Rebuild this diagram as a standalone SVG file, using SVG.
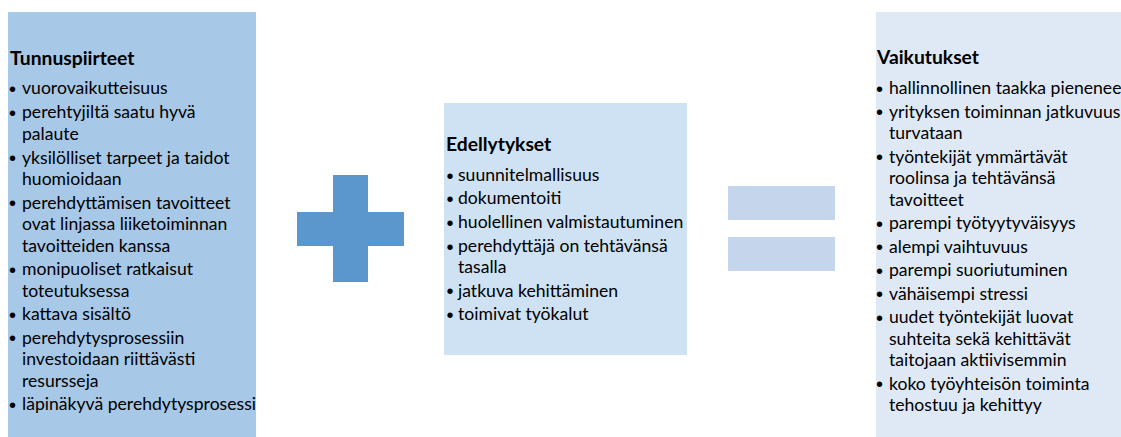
<svg xmlns="http://www.w3.org/2000/svg" width="1121" height="437" viewBox="0 0 1121 437">
<style>
text{font-family:Lato,"Liberation Sans",sans-serif;fill:#000;font-size:17.6px}
.t{font-weight:bold;font-size:19.3px}
.b{font-family:"Liberation Sans",Arial,sans-serif;font-size:20px;transform:translateY(1.5px)}
</style>
<rect width="1121" height="437" fill="#fff"/>
<g id="tunnuspiirteet">
<rect x="8" y="12" width="248" height="425" fill="#a7c8e7"/>
<text class="t" x="10" y="65">Tunnuspiirteet</text>
<text class="b" x="9" y="94">•</text><text x="22" y="94">vuorovaikutteisuus</text>
<text class="b" x="9" y="118">•</text><text x="22" y="118">perehtyjiltä saatu hyvä</text>
<text x="22" y="139.5">palaute</text>
<text class="b" x="9" y="163.5">•</text><text x="22" y="163.5">yksilölliset tarpeet ja taidot</text>
<text x="22" y="185">huomioidaan</text>
<text class="b" x="9" y="208.5">•</text><text x="22" y="208.5">perehdyttämisen tavoitteet</text>
<text x="22" y="230">ovat linjassa liiketoiminnan</text>
<text x="22" y="251.5">tavoitteiden kanssa</text>
<text class="b" x="9" y="275">•</text><text x="22" y="275">monipuoliset ratkaisut</text>
<text x="22" y="296.5">toteutuksessa</text>
<text class="b" x="9" y="320">•</text><text x="22" y="320">kattava sisältö</text>
<text class="b" x="9" y="343.5">•</text><text x="22" y="343.5">perehdytysprosessiin</text>
<text x="22" y="365">investoidaan riittävästi</text>
<text x="22" y="386.5">resursseja</text>
<text class="b" x="9" y="410">•</text><text x="22" y="410">läpinäkyvä perehdytysprosessi</text>
</g>
<g id="plus">
<path d="M333 175H368V212H404V246H368V282H333V246H297V212H333Z" fill="#5b96cc"/>
</g>
<g id="edellytykset">
<rect x="444" y="103" width="243" height="252" fill="#cfe2f3"/>
<text class="t" x="446" y="151">Edellytykset</text>
<text class="b" x="446.5" y="181">•</text><text x="458" y="181">suunnitelmallisuus</text>
<text class="b" x="446.5" y="204">•</text><text x="458" y="204">dokumentoiti</text>
<text class="b" x="446.5" y="228">•</text><text x="458" y="228">huolellinen valmistautuminen</text>
<text class="b" x="446.5" y="252">•</text><text x="458" y="252">perehdyttäjä on tehtävänsä</text>
<text x="458" y="273">tasalla</text>
<text class="b" x="446.5" y="296.5">•</text><text x="458" y="296.5">jatkuva kehittäminen</text>
<text class="b" x="446.5" y="320">•</text><text x="458" y="320">toimivat työkalut</text>
</g>
<g id="equals">
<rect x="728" y="186" width="107" height="34" fill="#c5d5eb"/>
<rect x="728" y="237" width="107" height="34" fill="#c5d5eb"/>
</g>
<g id="vaikutukset">
<rect x="876" y="12" width="245" height="425" fill="#dee9f5"/>
<text class="t" x="877" y="64">Vaikutukset</text>
<text class="b" x="876" y="94">•</text><text x="889" y="94">hallinnollinen taakka pienenee</text>
<text class="b" x="876" y="117.5">•</text><text x="889" y="117.5">yrityksen toiminnan jatkuvuus</text>
<text x="889" y="139">turvataan</text>
<text class="b" x="876" y="162.5">•</text><text x="889" y="162.5">työntekijät ymmärtävät</text>
<text x="889" y="184">roolinsa ja tehtävänsä</text>
<text x="889" y="205.5">tavoitteet</text>
<text class="b" x="876" y="229">•</text><text x="889" y="229">parempi työtyytyväisyys</text>
<text class="b" x="876" y="252.5">•</text><text x="889" y="252.5">alempi vaihtuvuus</text>
<text class="b" x="876" y="276">•</text><text x="889" y="276">parempi suoriutuminen</text>
<text class="b" x="876" y="299.5">•</text><text x="889" y="299.5">vähäisempi stressi</text>
<text class="b" x="876" y="323">•</text><text x="889" y="323">uudet työntekijät luovat</text>
<text x="889" y="344.5">suhteita sekä kehittävät</text>
<text x="889" y="366">taitojaan aktiivisemmin</text>
<text class="b" x="876" y="389.5">•</text><text x="889" y="389.5">koko työyhteisön toiminta</text>
<text x="889" y="411">tehostuu ja kehittyy</text>
</g>
</svg>
